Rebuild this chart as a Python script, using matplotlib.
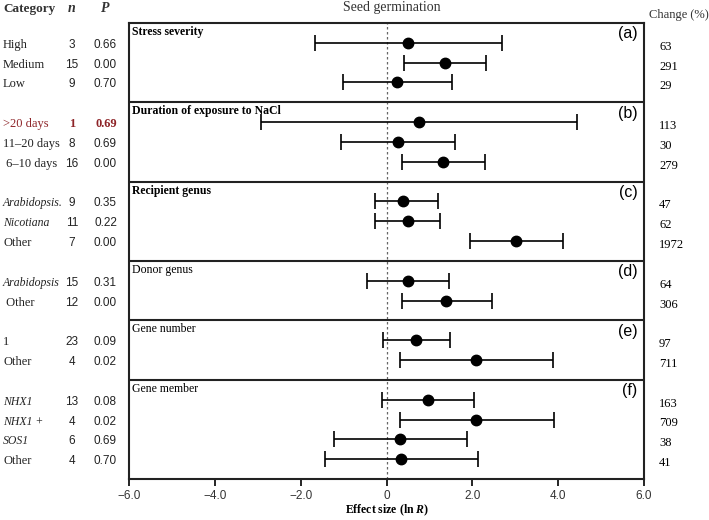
import matplotlib
matplotlib.use("Agg")
import matplotlib.pyplot as plt
from matplotlib.transforms import blended_transform_factory

plt.rcParams["mathtext.fontset"] = "custom"
plt.rcParams["mathtext.rm"] = "Liberation Serif"
plt.rcParams["mathtext.it"] = "Liberation Serif:italic"
plt.rcParams["mathtext.bf"] = "Liberation Serif:bold"
plt.rcParams["mathtext.bfit"] = "Liberation Serif:italic:bold"

# ---------------- data ----------------
groups = ["Stress severity", "Duration of exposure to NaCl", "Recipient genus",
          "Donor genus", "Gene number", "Gene member"]
group_tags = ["(a)", "(b)", "(c)", "(d)", "(e)", "(f)"]
group_bold = [True, True, True, False, False, False]

categories = [
    ["High", "Medium", "Low"],
    [">20 days", "11\u201320 days", " 6\u201310 days"],
    ["Arabidopsis.", "Nicotiana", "Other"],
    ["Arabidopsis", " Other"],
    ["1", "Other"],
    ["NHX1", "NHX1 +", "SOS1", "Other"],
]
italic_cats = {"Arabidopsis.", "Nicotiana", "Arabidopsis", "NHX1", "NHX1 +", "SOS1"}

n_values = [[3, 15, 9], [1, 8, 16], [9, 11, 7], [15, 12], [23, 4], [13, 4, 6, 4]]
p_values = [["0.66", "0.00", "0.70"], ["0.69", "0.69", "0.00"], ["0.35", "0.22", "0.00"],
            ["0.31", "0.00"], ["0.09", "0.02"], ["0.08", "0.02", "0.69", "0.70"]]
effect = [[0.49, 1.36, 0.25], [0.75, 0.26, 1.32], [0.38, 0.49, 3.02],
          [0.49, 1.39], [0.68, 2.09], [0.96, 2.09, 0.31, 0.34]]
ci_low = [[-1.67, 0.41, -1.01], [-2.92, -1.06, 0.37], [-0.27, -0.27, 1.95],
          [-0.45, 0.37], [-0.09, 0.32], [-0.10, 0.31, -1.22, -1.43]]
ci_high = [[2.68, 2.33, 1.53], [4.45, 1.59, 2.30], [1.20, 1.25, 4.12],
           [1.46, 2.45], [1.47, 3.88], [2.05, 3.91, 1.88, 2.14]]
change = [["63", "291", "29"], ["113", "30", "279"], ["47", "62", "1972"],
          ["64", "306"], ["97", "711"], ["163", "709", "38", "41"]]
highlight = (1, 0)  # the >20 days row, shown in red

x_ticks = [-6, -4, -2, 0, 2, 4, 6]
x_ticklabels = ["\u22126.0", "\u22124.0", "\u22122.0", "0", "2.0", "4.0", "6.0"]

# ---------------- figure ----------------
W, H = 709, 520
fig = plt.figure(figsize=(W / 100, H / 100), dpi=100)
ax = fig.add_axes([129 / W, (H - 479) / H, (644 - 129) / W, (479 - 23) / H])

serif = "Liberation Serif"
sans = "Liberation Sans"
red = "#8e2428"

tops = []
rows_y = []
y = 0
for cats in categories:
    tops.append(y)
    rows_y.append([y + 1 + i for i in range(len(cats))])
    y += len(cats) + 1
total = y

ax.set_xlim(-6, 6)
ax.set_ylim(total, 0)
ax.set_yticks([])
ax.set_xticks(x_ticks)
ax.set_xticklabels(x_ticklabels, fontfamily=sans, fontsize=8.5, color="#333333")
ax.tick_params(axis="x", direction="out", length=5, width=1.2, pad=3)
for s in ax.spines.values():
    s.set_linewidth(1.5)
    s.set_color("#222222")

ax.axvline(0, color="#666666", linestyle=(0, (2, 2)), linewidth=0.9, zorder=1)
for t in tops[1:]:
    ax.axhline(t, color="#222222", linewidth=1.5)

trans = blended_transform_factory(fig.transFigure, ax.transData)

for gi, cats in enumerate(categories):
    t = tops[gi]
    ax.text(-5.92, t + 0.45, groups[gi], fontfamily=serif, fontsize=8.5,
            fontweight="bold" if group_bold[gi] else "normal", va="center", ha="left")
    ax.text(5.85, t + 0.55, group_tags[gi], fontfamily=sans, fontsize=11.5,
            va="center", ha="right")
    for ri, cat in enumerate(cats):
        yy = rows_y[gi][ri]
        ax.errorbar(effect[gi][ri], yy,
                    xerr=[[effect[gi][ri] - ci_low[gi][ri]], [ci_high[gi][ri] - effect[gi][ri]]],
                    fmt="o", color="black", markersize=7.5, capsize=5.5,
                    elinewidth=1.2, capthick=1.2, zorder=3)
        is_hl = (gi, ri) == highlight
        col = red if is_hl else "#222222"
        is_it = cat in italic_cats
        ax.text(3 / W, yy + 0.1, cat, transform=trans, fontfamily=serif,
                fontsize=8.5 if is_it else 9,
                style="italic" if is_it else "normal", color=col,
                va="center", ha="left")
        ax.text(72 / W, yy + 0.1, str(n_values[gi][ri]), transform=trans,
                fontfamily=serif if is_hl else sans,
                fontsize=9 if is_hl else 8.5, color=col,
                fontweight="bold" if is_hl else "normal",
                va="center", ha="center")
        ax.text(117 / W, yy + 0.1, p_values[gi][ri], transform=trans,
                fontfamily=serif if is_hl else sans,
                fontsize=9 if is_hl else 8.5, color=col,
                fontweight="bold" if is_hl else "normal",
                va="center", ha="right")
        ax.text(659 / W, yy + 0.2, change[gi][ri], transform=trans, fontfamily=serif,
                fontsize=9, va="center", ha="left")

# headers
fig.text(3 / W, 1 - 9 / H, "Category", fontfamily=serif, fontsize=9.5, fontweight="bold",
         va="center", ha="left", color="#333333")
fig.text(72 / W, 1 - 9 / H, "n", fontfamily=serif, fontsize=10, fontweight="bold",
         style="italic", va="center", ha="center", color="#333333")
fig.text(105 / W, 1 - 9 / H, "P", fontfamily=serif, fontsize=10, fontweight="bold",
         style="italic", va="center", ha="center", color="#333333")
fig.text(392 / W, 1 - 7 / H, "Seed germination", fontfamily=serif, fontsize=10,
         va="center", ha="center", color="#333333")
fig.text(679 / W, 1 - 15 / H, "Change (%)", fontfamily=serif, fontsize=9,
         va="center", ha="center", color="#333333")
fig.text(387 / W, 2 / H, r"Effect size (ln $\mathbfit{R}$)", fontfamily=serif,
         fontsize=8.5, fontweight="bold", va="bottom", ha="center")

fig.savefig("out.png", dpi=100)
